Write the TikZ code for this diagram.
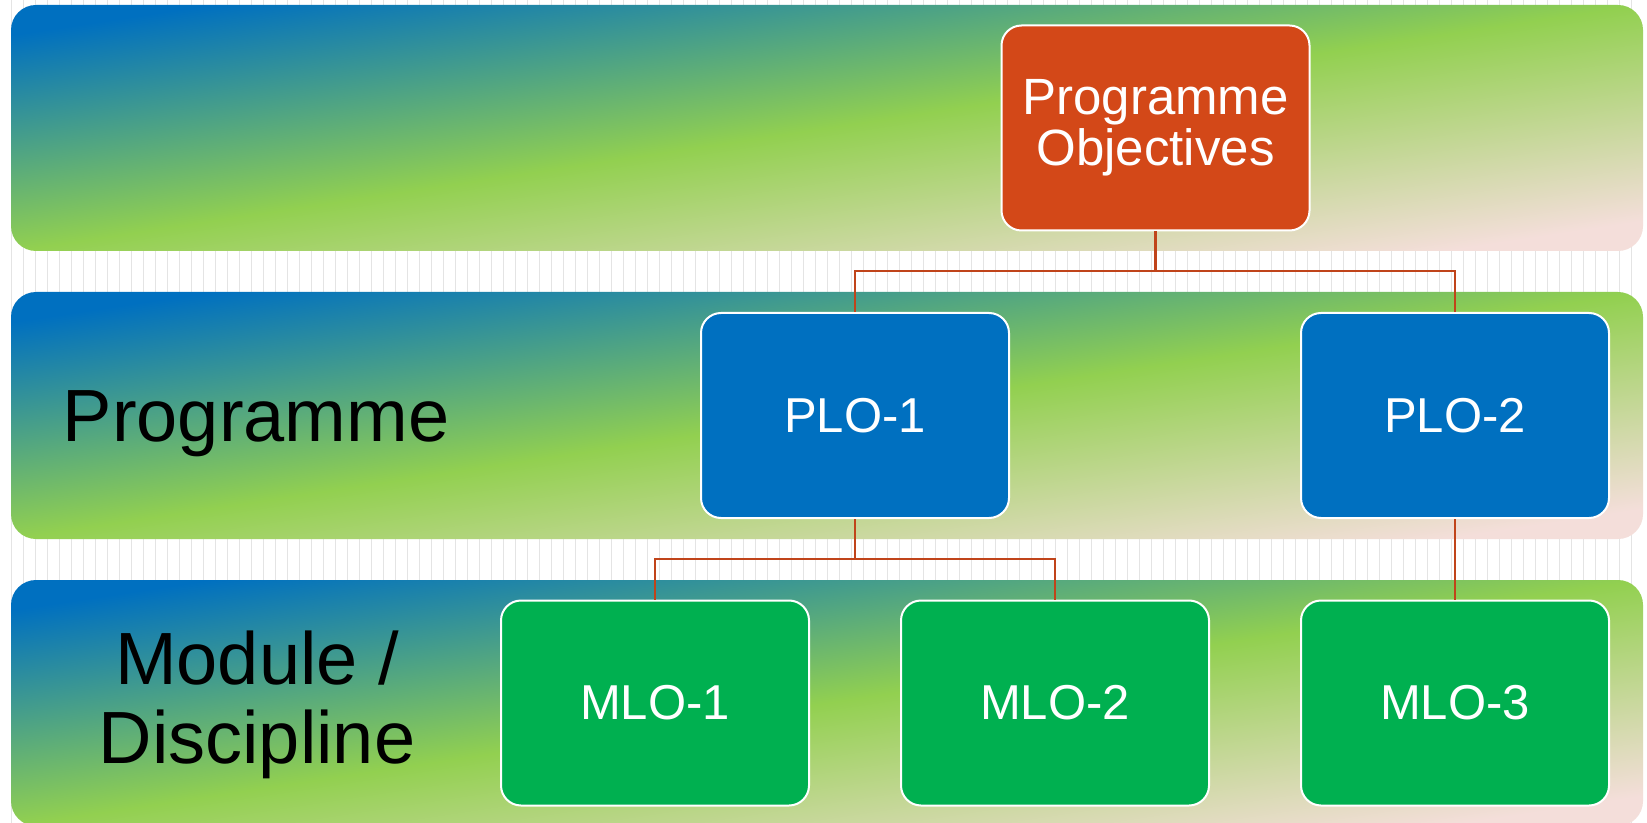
\documentclass[tikz,border=0pt]{standalone}
\usepackage{fontspec}
\setmainfont{Liberation Sans}
\definecolor{bgline}{RGB}{228,228,228}
\definecolor{gblue}{RGB}{0,112,192}
\definecolor{ggreen}{RGB}{146,208,80}
\definecolor{gpink}{RGB}{244,222,218}
\definecolor{poorange}{RGB}{211,72,24}
\definecolor{ploblue}{RGB}{0,112,192}
\definecolor{mlogreen}{RGB}{0,176,80}
\definecolor{connc}{RGB}{192,68,26}
\begin{document}
\begin{tikzpicture}[x=0.5pt,y=-0.5pt,
  band/.style={rounded corners=12.5pt, top color=gblue, bottom color=gpink, middle color=ggreen, shading angle=8.6},
  box/.style={draw=white, line width=1pt, rounded corners=10pt, minimum width=154pt, minimum height=102.5pt, inner sep=0pt, text=white, font=\fontsize{24.5}{25}\selectfont, align=center},
  lab/.style={text=black, font=\fontsize{37}{39.5}\selectfont, align=center, inner sep=0pt},
  conn/.style={draw=connc, line width=1.25pt}
]
\useasboundingbox (0,0) rectangle (1647,823);
\fill[white] (0,0) rectangle (1647,823);
\foreach \i in {0,...,135} \draw[bgline, line width=0.7pt] ({11.7+12*\i},0) -- ({11.7+12*\i},823);
\shade[band] (11,5) rectangle (1643,251);
\shade[band] (11,292) rectangle (1643,539);
\shade[band] (11,580) rectangle (1643,826);
\node[lab] (lprog) at (256,424) {Programme};
\node[lab] (lmod) at (257,705) {Module /\\Discipline};
\node[box, fill=poorange, font=\fontsize{25.5}{25.5}\selectfont] (po) at (1155.5,128) {Programme\\Objectives};
\node[box, fill=ploblue] (plo1) at (855,415.5) {PLO-1};
\node[box, fill=ploblue] (plo2) at (1455,415.5) {PLO-2};
\node[box, fill=mlogreen] (mlo1) at (655,703) {MLO-1};
\node[box, fill=mlogreen] (mlo2) at (1055,703) {MLO-2};
\node[box, fill=mlogreen] (mlo3) at (1455,703) {MLO-3};
\coordinate (j1) at (1155.5,271);
\coordinate (j2) at (855,559);
\draw[conn] (po.south) -- (j1);
\draw[conn] (plo1.north) |- (j1) -| (plo2.north);
\draw[conn] (plo1.south) -- (j2);
\draw[conn] (mlo1.north) |- (j2) -| (mlo2.north);
\draw[conn] (plo2.south) -- (mlo3.north);
\end{tikzpicture}
\end{document}
